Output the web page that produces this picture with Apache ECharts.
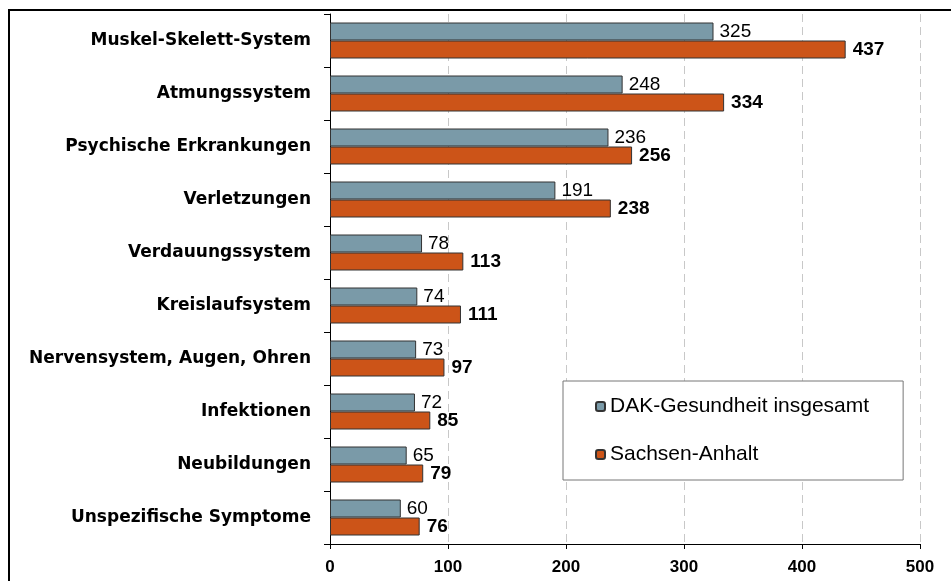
<!DOCTYPE html>
<html>
<head>
<meta charset="utf-8">
<script src="https://cdn.jsdelivr.net/npm/echarts@6/dist/echarts.min.js"></script>
<style>
  html, body { margin: 0; padding: 0; background: #fff; }
  #chart { width: 951px; height: 581px; }
</style>
</head>
<body>
<div id="chart"></div>
<script>
// Daten
const kategorien = ['Muskel-Skelett-System', 'Atmungssystem', 'Psychische Erkrankungen', 'Verletzungen',
  'Verdauungssystem', 'Kreislaufsystem', 'Nervensystem, Augen, Ohren', 'Infektionen',
  'Neubildungen', 'Unspezifische Symptome'];
const dakWerte = [325, 248, 236, 191, 78, 74, 73, 72, 65, 60];
const sachsenAnhaltWerte = [437, 334, 256, 238, 113, 111, 97, 85, 79, 76];
const serienNamen = ['DAK-Gesundheit insgesamt', 'Sachsen-Anhalt'];

const schrift = 'Liberation Sans, Arial, sans-serif';

const chart = echarts.init(document.getElementById('chart'));
const option = {
  animation: false,
  textStyle: { fontFamily: schrift },
  // Rahmen um das Diagramm
  graphic: [{
    type: 'rect',
    z: -10,
    shape: { x: 9, y: 10, width: 960, height: 600 },
    style: { fill: 'none', stroke: '#000', lineWidth: 2 }
  }],
  grid: { left: 330, right: 31, top: 14, bottom: 37 },
  legend: {
    orient: 'vertical',
    left: 563,
    top: 381,
    padding: [15, 34, 15, 32],
    itemGap: 27,
    itemWidth: 9,
    itemHeight: 9,
    backgroundColor: '#fff',
    borderColor: '#777',
    borderWidth: 1,
    textStyle: { fontSize: 21, color: '#000', fontFamily: schrift },
    data: serienNamen
  },
  xAxis: {
    type: 'value',
    min: 0,
    max: 500,
    interval: 100,
    axisLine: { show: true, lineStyle: { color: '#000', width: 1 } },
    axisTick: { show: true, length: 5, lineStyle: { color: '#000' } },
    axisLabel: { color: '#000', fontSize: 17, fontWeight: 'bold', margin: 15 },
    splitLine: { show: true, lineStyle: { color: '#c8c8c8', type: [8, 5] } }
  },
  yAxis: {
    type: 'category',
    inverse: true,
    data: kategorien,
    axisLine: { show: true, lineStyle: { color: '#000', width: 1 } },
    axisTick: { show: true, length: 6, lineStyle: { color: '#000' } },
    axisLabel: { color: '#000', fontSize: 17, fontWeight: 'bold', margin: 19, fontFamily: 'DejaVu Sans' }
  },
  series: [
    {
      name: serienNamen[0],
      type: 'bar',
      data: dakWerte,
      barWidth: 18,
      barGap: '0%',
      itemStyle: { color: '#7a9aa8', borderColor: '#333', borderWidth: 1 },
      label: { show: true, position: 'right', distance: 6, color: '#000', fontSize: 19 }
    },
    {
      name: serienNamen[1],
      type: 'bar',
      data: sachsenAnhaltWerte,
      barWidth: 18,
      barGap: '0%',
      itemStyle: { color: '#cc5418', borderColor: '#333', borderWidth: 1 },
      label: { show: true, position: 'right', distance: 7, color: '#000', fontSize: 19, fontWeight: 'bold' }
    }
  ]
};
chart.setOption(option);
</script>
</body>
</html>
